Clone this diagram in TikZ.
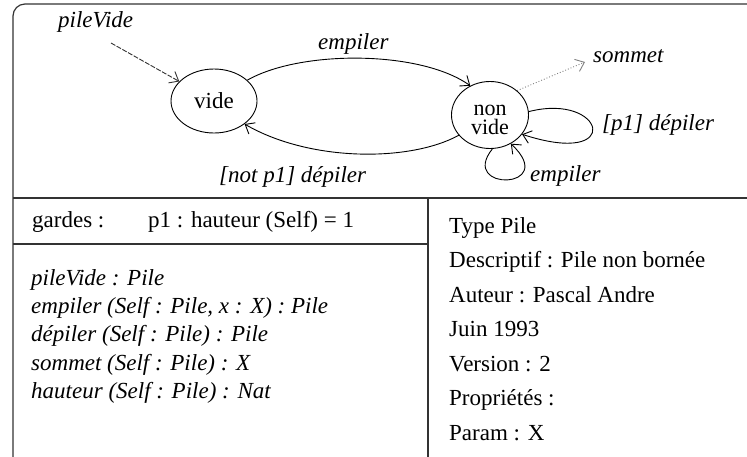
\documentclass[tikz,border=0pt]{standalone}
\usepackage{fontspec}
\setmainfont{Liberation Serif}
\usetikzlibrary{shapes.geometric,arrows.meta}
\begin{document}
\begin{tikzpicture}[x=1pt,y=-1pt,
  every node/.style={font=\fontsize{23}{28}\selectfont, inner sep=0pt},
  lbl/.style={anchor=base west, font=\fontsize{23}{28}\selectfont\itshape},
  txt/.style={anchor=base west},
  stateE/.style={draw, ellipse, line width=0.9pt},
  frameline/.style={line width=1.2pt, draw=black!80},
  arr/.style={line width=0.9pt, -{Straight Barb[length=8pt,width=13pt,line width=0.9pt]}}]
\useasboundingbox (0,0) rectangle (747,456);
\begin{scope}
\clip (0,0) rectangle (747,456);
\draw[frameline, rounded corners=12pt] (13,4) rectangle (780,490);
\draw[frameline] (13,198) -- (760,198);
\draw[frameline] (428,198) -- (428,470);
\draw[frameline] (13,244) -- (428,244);
\end{scope}

% states
\node[stateE, minimum width=86pt, minimum height=64pt] (vide) at (214,101) {vide};
\node[stateE, minimum width=77pt, minimum height=67pt] (nv) at (490,115) {};
\node[align=center, font=\fontsize{22}{19}\selectfont] (nvT) at (490,119.5) {non\\vide};

% free ends
\coordinate (pvstart) at (111,43);
\coordinate (somend) at (585,62);

% connectors
\draw[arr, dash pattern=on 5pt off 1.5pt, draw=black!80] (pvstart) -- (vide);
\draw[arr] (vide.32) .. controls (300,50) and (420,50) .. (nv.124);
\draw[arr] (nv.213) .. controls (410,162) and (310,162) .. (vide.323);
\draw[arr, dotted, draw=black!50] (nv.42) -- (somend);
\draw[arr] (nv.5) .. controls (605,92) and (625,168) .. (nv.329);
\draw[arr] (nv.274) .. controls (458,192) and (560,190) .. (nv.306);

% transition labels
\node[lbl] (lpv) at (58,27) {pileVide};
\node[lbl] (lemp1) at (318,49) {empiler};
\node[lbl] (lsom) at (593,62) {sommet};
\node[lbl] (ldep1) at (602,130) {[p1] dépiler};
\node[lbl] (lemp2) at (530,181) {empiler};
\node[lbl] (ldep2) at (219,182) {[not p1] dépiler};

% gardes
\node[txt] (g1) at (32,227) {gardes :};
\node[txt] (g2) at (148,227) {p1 : hauteur (Self) = 1};

% operations
\node[lbl] (o1) at (31,285) {pileVide : Pile};
\node[lbl] (o2) at (31,313.3) {empiler (Self : Pile, x : X) : Pile};
\node[lbl] (o3) at (31,341.6) {dépiler (Self : Pile) : Pile};
\node[lbl] (o4) at (31,370) {sommet (Self : Pile) : X};
\node[lbl] (o5) at (31,398.3) {hauteur (Self : Pile) : Nat};

% info
\node[txt] (i1) at (449,233) {Type Pile};
\node[txt] (i2) at (449,267.5) {Descriptif : Pile non bornée};
\node[txt] (i3) at (449,302) {Auteur : Pascal Andre};
\node[txt] (i4) at (449,336.5) {Juin 1993};
\node[txt] (i5) at (449,371) {Version : 2};
\node[txt] (i6) at (449,405.5) {Propriétés :};
\node[txt] (i7) at (449,440) {Param : X};
\end{tikzpicture}
\end{document}
